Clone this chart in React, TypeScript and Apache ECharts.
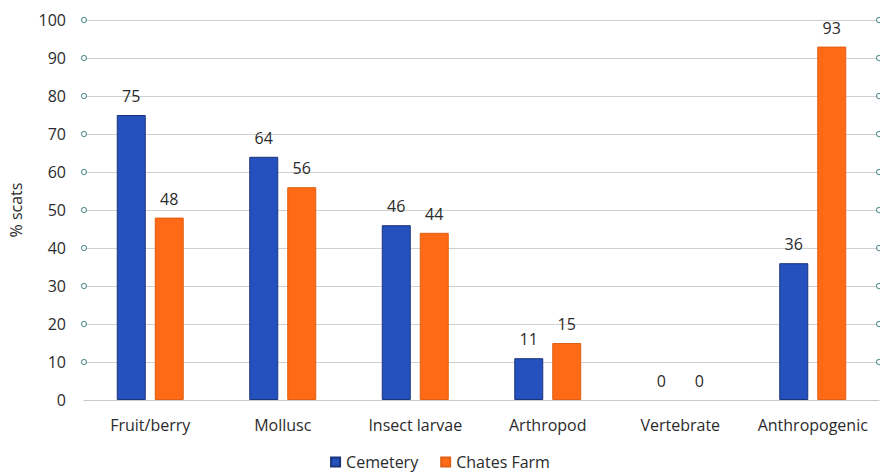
import React, { useEffect, useRef } from "react";
import * as echarts from "echarts";

const categories = ["Fruit/berry", "Mollusc", "Insect larvae", "Arthropod", "Vertebrate", "Anthropogenic"];
const cemetery = [75, 64, 46, 11, 0, 36];
const chatesFarm = [48, 56, 44, 15, 0, 93];
const yTicks = [10, 20, 30, 40, 50, 60, 70, 80, 90, 100];

const FONT = "'Open Sans', Lato, sans-serif";
const TEXT = "#2b2b2b";

function barData(values: number[], borderColor: string) {
  return values.map((v) => ({
    value: v,
    itemStyle: { borderColor, borderWidth: v === 0 ? 0 : 1 },
  }));
}

export default function App() {
  const ref = useRef<HTMLDivElement>(null);
  useEffect(() => {
    if (!ref.current) return;
    const chart = echarts.init(ref.current, undefined, { renderer: "svg" });
    const dots: number[][] = [];
    yTicks.forEach((t) => {
      dots.push([0, t]);
      dots.push([1, t]);
    });
    chart.setOption({
      animation: false,
      backgroundColor: "#ffffff",
      textStyle: { fontFamily: FONT },
      grid: { left: 84, right: 1, top: 20, bottom: 76, outerBoundsMode: "none", containLabel: false },
      legend: {
        data: ["Cemetery", "Chates Farm"],
        top: 454,
        left: "center",
        itemWidth: 9,
        itemHeight: 9,
        itemGap: 22,
        icon: "rect",
        padding: [0, 5, 0, 5],
        textStyle: { fontSize: 16, color: TEXT, fontFamily: FONT, padding: [0, 0, 0, 1] },
      },
      xAxis: [
        {
          type: "category",
          data: categories,
          axisLine: { show: true, lineStyle: { color: "#c8c8c8" } },
          axisTick: { show: false },
          axisLabel: { interval: 0, fontSize: 16, color: TEXT, margin: 17, fontFamily: FONT },
        },
        { type: "value", min: 0, max: 1, show: false },
      ],
      yAxis: {
        type: "value",
        min: 0,
        max: 100,
        interval: 10,
        name: "% scats",
        nameLocation: "middle",
        nameGap: 60,
        nameTextStyle: { fontSize: 16, color: TEXT, fontFamily: FONT },
        axisLine: { show: false },
        axisTick: { show: false },
        axisLabel: { fontSize: 16, color: TEXT, margin: 18, fontFamily: FONT },
        splitLine: { lineStyle: { color: "#d0d0d0" } },
      },
      series: [
        {
          name: "Cemetery",
          type: "bar",
          data: barData(cemetery, "#1a347a"),
          barWidth: 29,
          barGap: "31%",
          itemStyle: { color: "#2451bd", borderColor: "#1a347a", borderWidth: 1 },
          label: { show: true, position: "top", distance: 11, fontSize: 16, color: TEXT, fontFamily: FONT },
        },
        {
          name: "Chates Farm",
          type: "bar",
          data: barData(chatesFarm, "#e06014"),
          barWidth: 29,
          itemStyle: { color: "#ff6a16", borderColor: "#e06014", borderWidth: 1 },
          label: { show: true, position: "top", distance: 11, fontSize: 16, color: TEXT, fontFamily: FONT },
        },
        {
          name: "dots",
          type: "scatter",
          xAxisIndex: 1,
          yAxisIndex: 0,
          data: dots,
          symbol: "circle",
          symbolSize: 5,
          clip: false,
          silent: true,
          itemStyle: { color: "#ffffff", borderColor: "#3f7f80", borderWidth: 1.2 },
          z: 5,
        },
      ],
    });
    return () => chart.dispose();
  }, []);
  return <div ref={ref} style={{ width: 880, height: 476, position: "absolute", left: 0, top: 0 }} />;
}
